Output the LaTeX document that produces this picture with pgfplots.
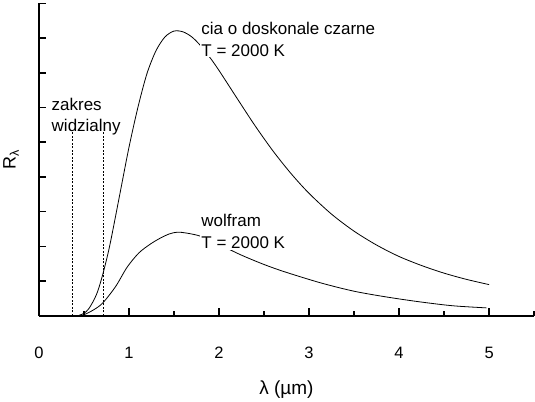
\documentclass[border=0pt]{standalone}
\usepackage{fontspec}
\setmainfont{Liberation Sans}
\usepackage{pgfplots}
\pgfplotsset{compat=1.18}
\begin{document}
\begin{tikzpicture}
\begin{axis}[
  scale only axis,
  width=496pt, height=313pt,
  xmin=0, xmax=5.5, ymin=0, ymax=9,
  axis x line=bottom, axis y line=left,
  axis line style={-, line width=1.8pt},
  tick align=inside,
  xtick={0,1,2,3,4,5},
  minor xtick={0.5,1.5,2.5,3.5,4.5,5.5},
  ytick={1,2,3,4,5,6,7,8,9},
  yticklabels={},
  major tick length=7.5pt, minor tick length=4.5pt,
  every tick/.style={line width=1.6pt, black},
  /pgf/number format/assume math mode=true,
  xticklabel style={anchor=center, yshift=-37pt, font=\fontsize{16.5}{19}\selectfont},
  every axis x label/.style={at={(axis description cs:0.5,-0.235)}, anchor=center, font=\fontsize{19}{22}\selectfont},
  every axis y label/.style={at={(axis description cs:-0.056,0.5)}, rotate=90, anchor=center, font=\fontsize{18}{22}\selectfont},
  xlabel={λ (µm)},
  ylabel={R\textsubscript{λ}},
  clip=false,
]
% blackbody
\addplot[black, line width=0.8pt, smooth] coordinates {
(0.45,0.02) (0.5,0.07) (0.55,0.19) (0.6,0.40) (0.65,0.68) (0.7,1.10) (0.75,1.60) (0.8,2.18) (0.9,3.51) (1.0,4.84) (1.1,6.00) (1.2,6.97) (1.3,7.63) (1.4,8.03) (1.5,8.20) (1.6,8.18) (1.7,8.03) (1.8,7.77) (1.9,7.44) (2.0,7.07) (2.2,6.27) (2.4,5.48) (2.6,4.75) (2.8,4.10) (3.0,3.53) (3.25,2.93) (3.5,2.44) (3.75,2.04) (4.0,1.71) (4.25,1.45) (4.5,1.23) (4.75,1.05) (5.0,0.90)
};
% wolfram
\addplot[black, line width=0.8pt, smooth] coordinates {
(0.45,0.0) (0.5,0.03) (0.613,0.18) (0.713,0.38) (0.854,0.85) (0.98,1.40) (1.11,1.81) (1.24,2.07) (1.35,2.24) (1.45,2.36) (1.54,2.41) (1.65,2.38) (1.80,2.29) (2.0,2.06) (2.24,1.76) (2.5,1.48) (2.74,1.26) (3.13,0.95) (3.5,0.71) (3.87,0.54) (4.24,0.40) (4.6,0.29) (4.97,0.23)
};
% visible range
\addplot[black, line width=0.6pt, dash pattern=on 2pt off 1.5pt] coordinates {(0.37,0) (0.37,5.32)};
\addplot[black, line width=0.6pt, dash pattern=on 2pt off 1.5pt] coordinates {(0.713,0) (0.713,5.32)};
\node[anchor=west, align=left, inner sep=1pt, font=\fontsize{17}{21}\selectfont] at (axis cs:0.13,5.75) {zakres\\widzialny};
\node[anchor=west, align=left, fill=white, inner sep=1pt, font=\fontsize{17}{21.6}\selectfont] at (axis cs:1.793,7.96) {cia o doskonale czarne\\T = 2000 K};
\node[anchor=west, align=left, fill=white, inner sep=1pt, font=\fontsize{17}{22.7}\selectfont] at (axis cs:1.793,2.43) {wolfram\\T = 2000 K};
\end{axis}
\end{tikzpicture}
\end{document}
